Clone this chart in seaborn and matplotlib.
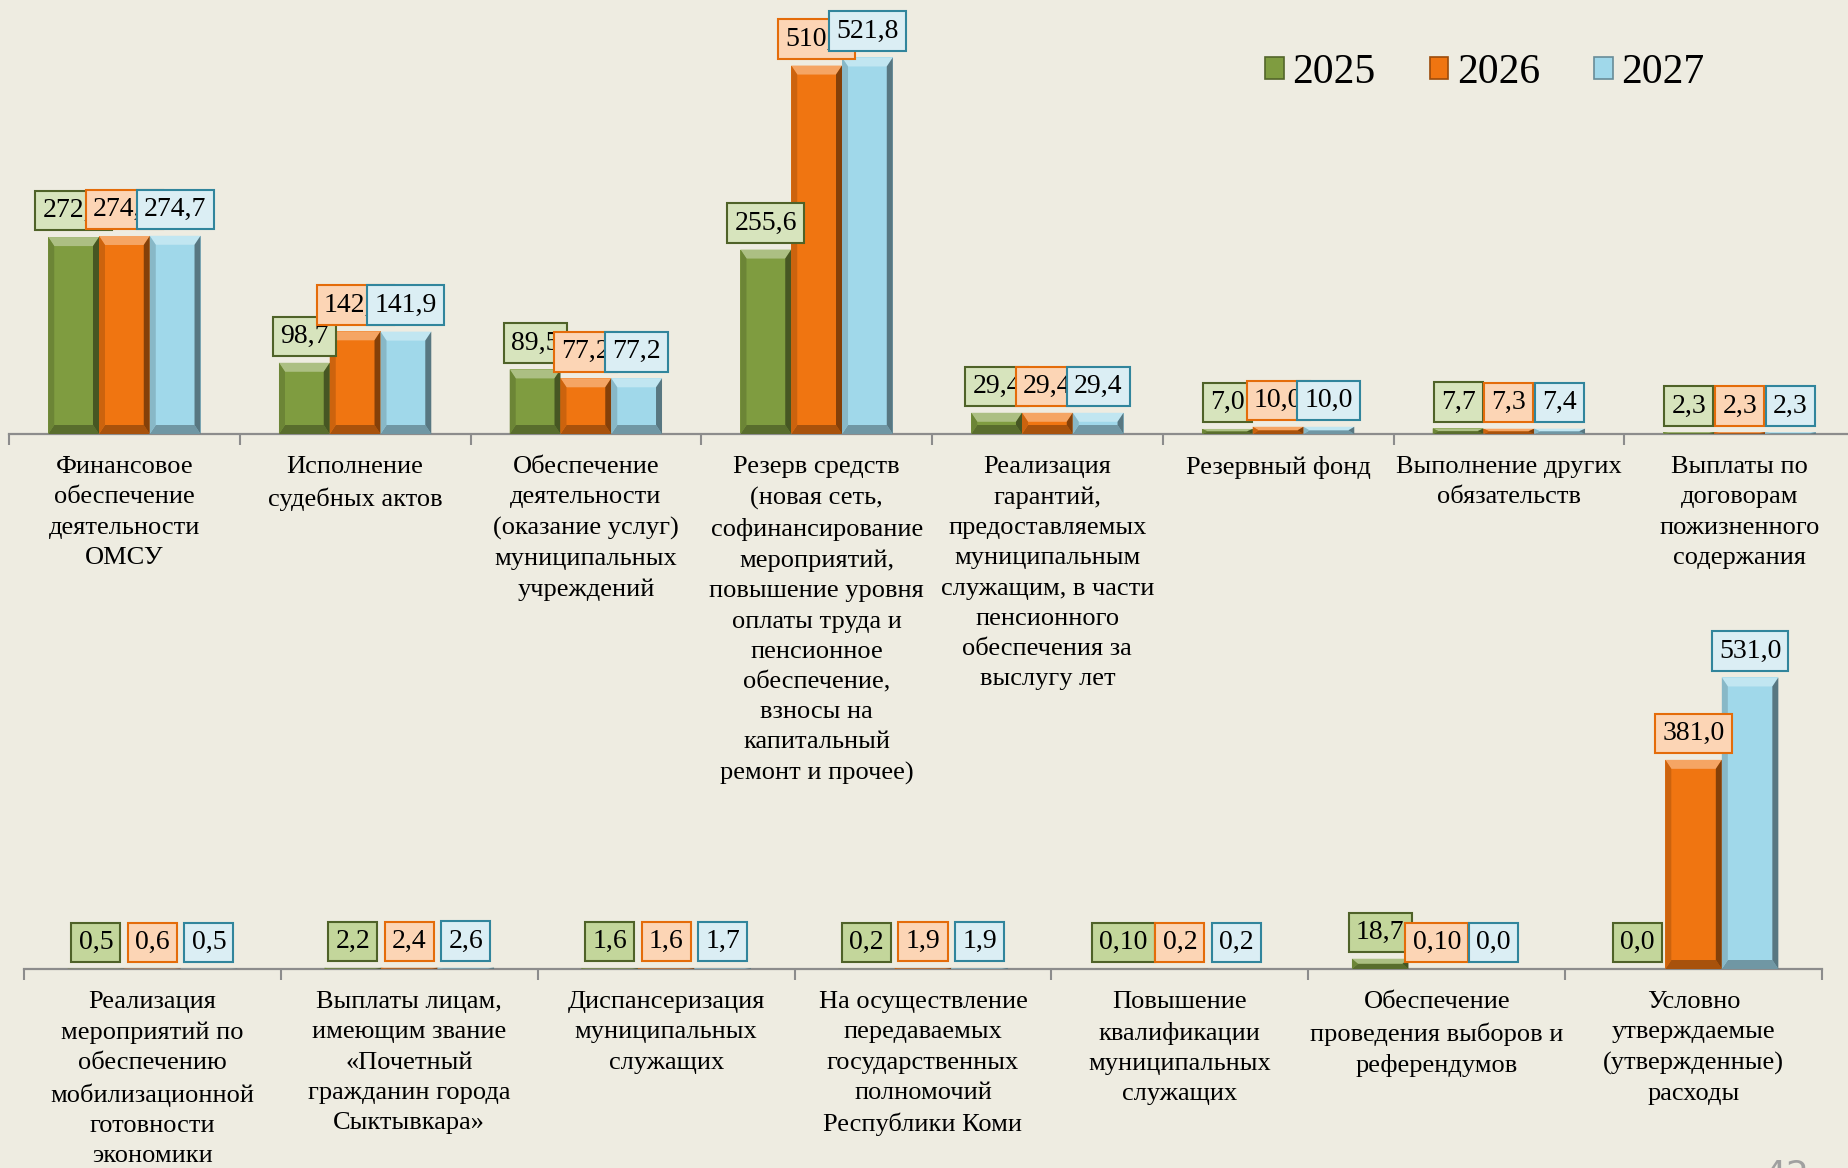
import matplotlib
matplotlib.use("Agg")
import matplotlib.pyplot as plt
import matplotlib.colors as mcolors
from matplotlib.patches import Patch, Polygon
import numpy as np
import pandas as pd
import seaborn as sns

years = ["2025", "2026", "2027"]

top_categories = [
    "Финансовое\nобеспечение\nдеятельности\nОМСУ",
    "Исполнение\nсудебных актов",
    "Обеспечение\nдеятельности\n(оказание услуг)\nмуниципальных\nучреждений",
    "Резерв средств\n(новая сеть,\nсофинансирование\nмероприятий,\nповышение уровня\nоплаты труда и\nпенсионное\nобеспечение,\nвзносы на\nкапитальный\nремонт и прочее)",
    "Реализация\nгарантий,\nпредоставляемых\nмуниципальным\nслужащим, в части\nпенсионного\nобеспечения за\nвыслугу лет",
    "Резервный фонд",
    "Выполнение других\nобязательств",
    "Выплаты по\nдоговорам\nпожизненного\nсодержания",
]
top_2025 = ["272,9", "98,7", "89,5", "255,6", "29,4", "7,0", "7,7", "2,3"]
top_2026 = ["274,4", "142,3", "77,2", "510,6", "29,4", "10,0", "7,3", "2,3"]
top_2027 = ["274,7", "141,9", "77,2", "521,8", "29,4", "10,0", "7,4", "2,3"]

bottom_categories = [
    "Реализация\nмероприятий по\nобеспечению\nмобилизационной\nготовности\nэкономики",
    "Выплаты лицам,\nимеющим звание\n«Почетный\nгражданин города\nСыктывкара»",
    "Диспансеризация\nмуниципальных\nслужащих",
    "На осуществление\nпередаваемых\nгосударственных\nполномочий\nРеспублики Коми",
    "Повышение\nквалификации\nмуниципальных\nслужащих",
    "Обеспечение\nпроведения выборов и\nреферендумов",
    "Условно\nутверждаемые\n(утвержденные)\nрасходы",
]
bottom_2025 = ["0,5", "2,2", "1,6", "0,2", "0,10", "18,7", "0,0"]
bottom_2026 = ["0,6", "2,4", "1,6", "1,9", "0,2", "0,10", "381,0"]
bottom_2027 = ["0,5", "2,6", "1,7", "1,9", "0,2", "0,0", "531,0"]

BG = "#EEECE1"
bar_colors = {"2025": "#7F9C40", "2026": "#F07511", "2027": "#A0D8EA"}
box_edge = {"2025": "#4F6228", "2026": "#E46C0A", "2027": "#31859C"}
box_face_top = {"2025": "#D7E4BD", "2026": "#FCD5B5", "2027": "#DBEEF4"}
box_face_bottom = {"2025": "#C3D69B", "2026": "#FCD5B5", "2027": "#DBEEF4"}

FONT = "Liberation Serif"
plt.rcParams["font.family"] = [FONT, "DejaVu Serif"]


def make_frame(cats, series):
    rows = []
    for year, labels in zip(years, series):
        for cat, lab in zip(cats, labels):
            rows.append({"category": cat, "year": year, "label": lab,
                         "value": float(lab.replace(",", "."))})
    return pd.DataFrame(rows)


def mix(c, other, t):
    a = np.array(mcolors.to_rgb(c))
    b = np.array(mcolors.to_rgb(other))
    return tuple(a * (1 - t) + b * t)


def bevel(ax, bar, color, dx_px=6, dy_px=9):
    # fake the 3D bevel of the original Office bars
    h = bar.get_height()
    if h <= 0:
        return
    x0, y0 = bar.get_x(), bar.get_y()
    x1, y1 = x0 + bar.get_width(), y0 + h
    inv = ax.transData.inverted()
    p0 = ax.transData.transform((x0, y0))
    q = inv.transform((p0[0] + dx_px, p0[1] + dy_px))
    dx, dy = q[0] - x0, q[1] - y0
    dy = min(dy, h / 2)
    faces = [
        ([(x0, y1), (x1, y1), (x1 - dx, y1 - dy), (x0 + dx, y1 - dy)], mix(color, "white", 0.35)),
        ([(x0, y0), (x1, y0), (x1 - dx, y0 + dy), (x0 + dx, y0 + dy)], mix(color, "black", 0.3)),
        ([(x0, y0), (x0 + dx, y0 + dy), (x0 + dx, y1 - dy), (x0, y1)], mix(color, "black", 0.15)),
        ([(x1, y0), (x1 - dx, y0 + dy), (x1 - dx, y1 - dy), (x1, y1)], mix(color, "black", 0.45)),
    ]
    for pts, fc in faces:
        ax.add_patch(Polygon(pts, closed=True, facecolor=fc, edgecolor="none", zorder=3))


def draw_panel(ax, cats, series, ymax, box_face):
    df = make_frame(cats, series)
    sns.barplot(data=df, x="category", y="value", hue="year", order=cats,
                hue_order=years, palette=bar_colors, width=0.66, saturation=1,
                legend=False, ax=ax, zorder=2, linewidth=0)
    n = len(cats)
    ax.set_xlim(-0.5, n - 0.5)
    ax.set_ylim(0, ymax)
    ax.set_facecolor("none")
    for s in ["top", "left", "right"]:
        ax.spines[s].set_visible(False)
    ax.spines["bottom"].set_color("#8C8C8C")
    ax.spines["bottom"].set_linewidth(1.6)
    ax.set_yticks([])
    ax.set_xlabel("")
    ax.set_ylabel("")
    ax.set_xticks(range(n))
    ax.set_xticklabels(cats, fontsize=19, linespacing=1.48)
    ax.set_xticks(np.arange(-0.5, n), minor=True)
    ax.tick_params(axis="x", which="major", length=0, pad=16)
    ax.tick_params(axis="x", which="minor", length=8, width=1.5, color="#8C8C8C")
    for i, (cont, year) in enumerate(zip(ax.containers, years)):
        labels = df[df["year"] == year]["label"].tolist()
        for bar, lab in zip(cont, labels):
            bevel(ax, bar, bar_colors[year])
            xc = bar.get_x() + bar.get_width() / 2
            ax.annotate(lab, (xc, bar.get_height()), xytext=(0, 10),
                        textcoords="offset points", ha="center", va="bottom",
                        fontsize=20, annotation_clip=False, zorder=6 + i,
                        bbox=dict(boxstyle="square,pad=0.26", fc=box_face[year],
                                  ec=box_edge[year], lw=1.5))


fig = plt.figure(figsize=(18.49, 11.68), dpi=100)
fig.patch.set_facecolor(BG)

ax_top = fig.add_axes([9 / 1849, 1 - 434 / 1168, 1846 / 1849, 434 / 1168])
draw_panel(ax_top, top_categories, [top_2025, top_2026, top_2027], 434 / 0.7216, box_face_top)

ax_bot = fig.add_axes([24 / 1849, 1 - 969 / 1168, 1798 / 1849, 369 / 1168])
draw_panel(ax_bot, bottom_categories, [bottom_2025, bottom_2026, bottom_2027], 369 / 0.549, box_face_bottom)

handles = [Patch(facecolor=bar_colors[y], edgecolor=mix(bar_colors[y], "black", 0.35), lw=1.2)
           for y in years]
fig.legend(handles, years, loc="center left", bbox_to_anchor=(0.664, 0.938), ncol=3,
           frameon=False, fontsize=30, handlelength=0.45, handleheight=0.45,
           handletextpad=0.2, columnspacing=1.3)

fig.text(0.966, 1 - 1159 / 1168, "42", fontsize=26, color="#A0A0A0", ha="center", va="top",
         family="DejaVu Sans")

fig.savefig("out.png", dpi=100, facecolor=BG)
